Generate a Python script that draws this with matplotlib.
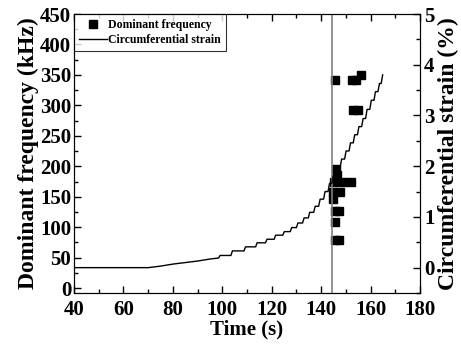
import matplotlib
matplotlib.use("Agg")
import matplotlib.pyplot as plt
from matplotlib.ticker import MultipleLocator

plt.rcParams['font.family'] = ['Liberation Serif', 'DejaVu Serif']
plt.rcParams['font.weight'] = 'bold'

# circumferential strain (%): smooth early part, then stepwise record
ramp_t = [40, 70, 75, 80, 85, 90, 95, 98.5]
ramp_v = [0.0, 0.0, 0.03, 0.07, 0.10, 0.13, 0.17, 0.19]
step_t = [98.5, 103.5, 108.8, 113.5, 117.5, 121, 124.5, 127.5, 130, 132.5, 134.8,
          137, 139, 141, 142.8, 144.3, 146, 147.7, 149.5, 151.3, 153, 154.7,
          156.4, 158, 159.7, 161.4, 163, 164.3]
step_v = [0.24, 0.33, 0.41, 0.49, 0.56, 0.64, 0.71, 0.79, 0.88, 0.98, 1.09,
          1.21, 1.35, 1.50, 1.66, 1.82, 1.98, 2.14, 2.30, 2.46, 2.62, 2.78,
          2.94, 3.12, 3.30, 3.47, 3.63, 3.80]

# dominant frequency events
freq_t = [145.6, 152.6, 154.1, 156.2, 152.8, 155.0, 146.0, 146.3, 145.1, 149.0,
          152.2, 144.8, 147.6, 145.0, 145.8, 147.2, 145.6, 145.8, 147.2]
freq_f = [341, 341, 341, 350, 293, 293, 196, 185, 175, 175,
          175, 157, 157, 147, 127, 127, 108, 79, 79]

fracture_t = 144.6
rise = 0.6  # duration of each strain step (s)

# strain trace: each step rises over a short interval, then holds to the next
trace_t, trace_v = list(ramp_t), list(ramp_v)
for i, (t, v) in enumerate(zip(step_t, step_v)):
    trace_t.append(t + rise)
    trace_v.append(v)
    if i + 1 < len(step_t):
        trace_t.append(step_t[i + 1])
        trace_v.append(v)

fig = plt.figure(figsize=(4.61, 3.45), dpi=100)
ax = fig.add_axes([0.1605, 0.1507, 0.7505, 0.8087])
ax2 = ax.twinx()

sq, = ax.plot(freq_t, freq_f, 's', color='black', markersize=5.5, linestyle='none',
              label='Dominant frequency')
ln, = ax2.plot(trace_t, trace_v, color='black', linewidth=1.0,
               label='Circumferential strain')
ax.axvline(fracture_t, color='#808080', linewidth=1.2)

ax.set_xlim(40, 180)
ax.set_ylim(-8, 450)
ax2.set_ylim(-0.5, 5)

ax.xaxis.set_major_locator(MultipleLocator(20))
ax.xaxis.set_minor_locator(MultipleLocator(10))
ax.yaxis.set_major_locator(MultipleLocator(50))
ax.yaxis.set_minor_locator(MultipleLocator(25))
ax2.yaxis.set_major_locator(MultipleLocator(1))
ax2.yaxis.set_minor_locator(MultipleLocator(0.5))

ax.tick_params(which='both', direction='in', top=True, labelsize=15, width=1)
ax.tick_params(axis='x', pad=5)
ax.tick_params(axis='y', pad=2)
ax.tick_params(which='major', length=5)
ax.tick_params(which='minor', length=3)
ax2.tick_params(which='both', direction='in', labelsize=15, width=1, pad=3)
ax2.tick_params(which='major', length=5)
ax2.tick_params(which='minor', length=3)
for a in (ax, ax2):
    for lab in a.get_xticklabels() + a.get_yticklabels():
        lab.set_fontweight('bold')

ax.set_xlabel('Time (s)', fontsize=15, fontweight='bold', labelpad=0)
ax.set_ylabel('Dominant frequency (kHz)', fontsize=17, fontweight='bold', labelpad=1)
ax2.set_ylabel('Circumferential strain (%)', fontsize=17, fontweight='bold', labelpad=2)

leg = ax.legend(handles=[sq, ln], loc='upper left', fontsize=8.5, frameon=True,
                fancybox=False, edgecolor='black', borderaxespad=0, handlelength=2.4,
                borderpad=0.4, labelspacing=0.3, handletextpad=0.1)
leg.get_frame().set_linewidth(0.8)
for t in leg.get_texts():
    t.set_fontweight('bold')

fig.savefig('out.png', dpi=100)
